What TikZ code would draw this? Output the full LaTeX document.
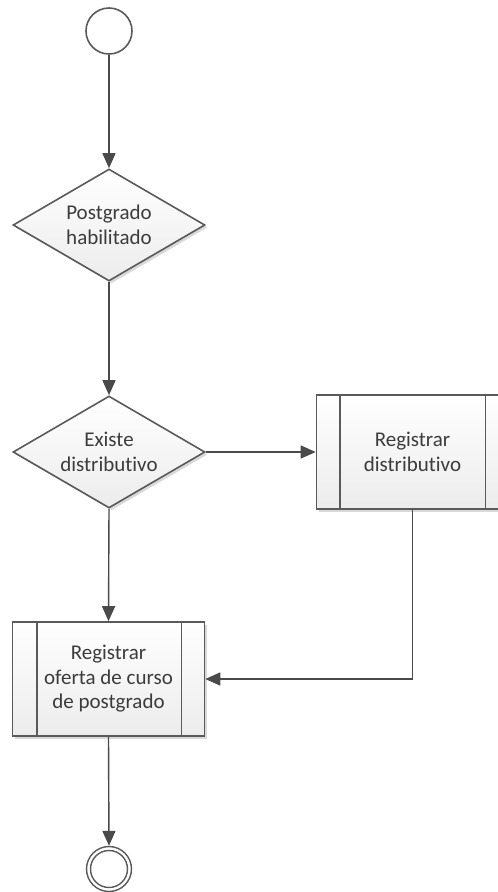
\documentclass[tikz,border=0pt]{standalone}
\usepackage{fontspec}
\setmainfont{Carlito}[Ligatures={NoCommon}]
\usetikzlibrary{shapes.geometric,arrows.meta,calc,shadows}
\definecolor{edgec}{HTML}{5A5A5A}
\definecolor{linec}{HTML}{4A4A4A}
\definecolor{textc}{HTML}{3C3C3C}
\definecolor{fillb}{HTML}{ECECEC}
\tikzset{
  shapebase/.style={draw=edgec, line width=1.6pt, top color=white, bottom color=fillb,
    text=textc, font=\fontsize{21}{24.5}\selectfont, align=center, inner sep=0pt,
    drop shadow={shadow xshift=2.5pt, shadow yshift=-2.5pt, opacity=0.15, fill=black}},
  decision/.style={shapebase, diamond, minimum width=192pt, minimum height=112pt, aspect=1.72},
  subproc/.style={shapebase, rectangle, minimum width=192pt, minimum height=114pt},
  startc/.style={circle, draw=edgec, line width=1.6pt, fill=white, minimum size=46pt, inner sep=0pt},
  flow/.style={draw=linec, line width=1.4pt, -{Triangle[width=13pt,length=15pt]}},
}
\begin{document}
\begin{tikzpicture}[x=1pt,y=-1pt]
\clip (0,0) rectangle (498,892);
\useasboundingbox (0,0) rectangle (498,892);
\node[startc] (start) at (109,31) {};
\node[decision] (d1) at (109,225) {Postgrado\\habilitado};
\node[decision] (d2) at (109,452) {Existe\\distributivo};
\node[subproc] (p1) at (412.5,452) {Registrar\\distributivo};
\node[subproc] (p2) at (108.5,679) {Registrar\\oferta de curso\\de postgrado};
\node[circle, draw=edgec, line width=1.4pt, fill=white, minimum size=45pt, inner sep=0pt] (end) at (109,869) {};
\node[circle, draw=edgec, line width=1.4pt, minimum size=37pt, inner sep=0pt] (endin) at (109,869) {};
% inner vertical bars of sub-process boxes
\draw[edgec, line width=1.6pt] ($(p1.north west)+(24,0)$) -- ($(p1.south west)+(24,0)$);
\draw[edgec, line width=1.6pt] ($(p1.north east)+(-24,0)$) -- ($(p1.south east)+(-24,0)$);
\draw[edgec, line width=1.6pt] ($(p2.north west)+(25,0)$) -- ($(p2.south west)+(25,0)$);
\draw[edgec, line width=1.6pt] ($(p2.north east)+(-24,0)$) -- ($(p2.south east)+(-24,0)$);
% connectors
\draw[flow] (start) -- (d1);
\draw[flow] (d1) -- (d2);
\draw[flow] (d2.east) -- (p1.west);
\draw[flow] (d2.south) -- (p2.north);
\draw[flow] (p1.south) |- (p2.east);
\draw[flow] (p2.south) -- (end.north);
\end{tikzpicture}
\end{document}
